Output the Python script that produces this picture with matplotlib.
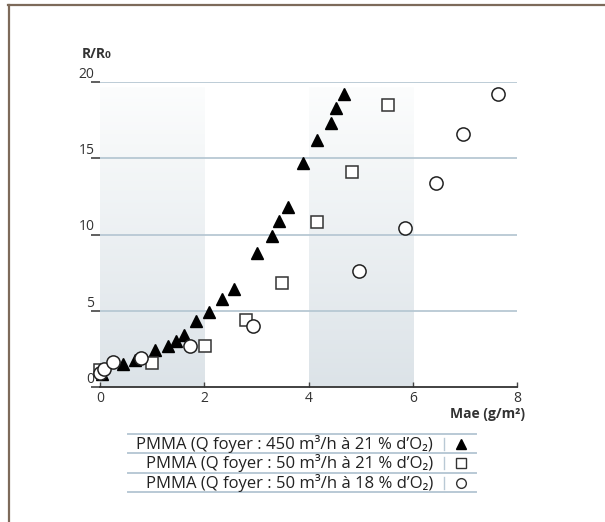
import numpy as np
import matplotlib
matplotlib.use("Agg")
import matplotlib.pyplot as plt
from matplotlib.lines import Line2D
from matplotlib.colors import LinearSegmentedColormap

plt.rcParams['font.family'] = ['Open Sans', 'DejaVu Sans']

# PMMA, Q foyer 450 m3/h, 21% O2
tri_x = [0.04, 0.45, 0.68, 1.06, 1.30, 1.46, 1.61, 1.84, 2.10, 2.35, 2.57,
         3.01, 3.30, 3.44, 3.60, 3.89, 4.17, 4.43, 4.53, 4.68]
tri_y = [0.85, 1.5, 1.8, 2.4, 2.7, 3.0, 3.4, 4.3, 4.9, 5.75, 6.4,
         8.8, 9.9, 10.9, 11.8, 14.7, 16.2, 17.3, 18.3, 19.2]
# PMMA, Q foyer 50 m3/h, 21% O2
sq_x = [0.0, 1.0, 2.01, 2.80, 3.49, 4.16, 4.83, 5.52]
sq_y = [1.1, 1.6, 2.7, 4.4, 6.8, 10.8, 14.1, 18.5]
# PMMA, Q foyer 50 m3/h, 18% O2
ci_x = [0.0, 0.07, 0.24, 0.79, 1.73, 2.93, 4.96, 5.86, 6.44, 6.97, 7.63]
ci_y = [0.95, 1.2, 1.67, 1.9, 2.7, 4.0, 7.6, 10.45, 13.35, 16.6, 19.2]

legend_labels = ["PMMA (Q foyer : 450 m³/h à 21 % d’O₂)",
                 "PMMA (Q foyer : 50 m³/h à 21 % d’O₂)",
                 "PMMA (Q foyer : 50 m³/h à 18 % d’O₂)"]
xticks = [0, 2, 4, 6, 8]
yticks = [0, 5, 10, 15, 20]
bands = [(0, 2), (4, 6)]

W, H = 605, 522
fig = plt.figure(figsize=(W / 100, H / 100), dpi=100)


def fx(px):
    return px / W


def fy(py):
    return 1 - py / H


ax = fig.add_axes([fx(100), fy(387), fx(517) - fx(100), fy(82) - fy(387)])
ax.set_xlim(0, 8)
ax.set_ylim(0, 20)

# gradient bands
grad = np.linspace(0, 1, 256).reshape(-1, 1)
cmap = LinearSegmentedColormap.from_list("band", ["#dce3e8", "#fcfdfd"])
for a, b in bands:
    ax.imshow(grad, extent=(a, b, 0, 19.67), origin="lower", cmap=cmap,
              aspect="auto", zorder=0)

for v in yticks[1:]:
    ax.axhline(v, color="#b7c8d3", lw=1.3, zorder=1)

ax.plot(tri_x, tri_y, ls="none", marker="^", ms=9, color="black", zorder=3, clip_on=False)
ax.plot(sq_x, sq_y, ls="none", marker="s", ms=8.5, mfc="white", mec="#333333", mew=1.1,
        zorder=4, clip_on=False)
ax.plot(ci_x, ci_y, ls="none", marker="o", ms=9.5, mfc="white", mec="#222222", mew=1.1,
        zorder=5, clip_on=False)

for s in ["top", "right", "left"]:
    ax.spines[s].set_visible(False)
ax.spines["bottom"].set_color("#333333")
ax.spines["bottom"].set_linewidth(1.3)
ax.spines["bottom"].set_zorder(6)

ax.set_xticks(xticks)
ax.tick_params(axis="x", direction="in", length=3.6, width=1, color="#444444",
               labelsize=10, labelcolor="#333333", pad=3)
ax.set_yticks(yticks)
ax.tick_params(axis="y", direction="out", length=6.5, width=1.2, color="#444444",
               labelsize=10, labelcolor="#333333", pad=-2.5)
for lab in ax.get_yticklabels():
    lab.set_verticalalignment("bottom")

fig.text(fx(82), fy(54), "R/R₀", fontsize=10, fontweight="bold", color="#333333",
         ha="left", va="center")
fig.text(fx(525), fy(414), "Mae (g/m²)", fontsize=10, fontweight="bold", color="#333333",
         ha="right", va="center")

# legend table
for py in [434, 453, 473, 492]:
    fig.add_artist(Line2D([fx(128), fx(476)], [fy(py), fy(py)], color="#b9c9d5", lw=1.4))
row_y = [444, 463, 482.5]
styles = [dict(marker="^", ms=6.5, color="black", mec="black"),
          dict(marker="s", ms=6.5, mfc="white", mec="#333333", mew=1),
          dict(marker="o", ms=7, mfc="white", mec="#333333", mew=1)]
for lab, py, st in zip(legend_labels, row_y, styles):
    fig.text(fx(433), fy(py), lab, fontsize=12, color="#222222", ha="right", va="center")
    fig.add_artist(Line2D([fx(444), fx(444)], [fy(py - 6), fy(py + 6)], color="#b9c9d5", lw=1))
    fig.add_artist(Line2D([fx(461)], [fy(py)], ls="none", **st))

# frame
fig.add_artist(Line2D([fx(8), fx(605)], [fy(5), fy(5)], color="#7d6a5a", lw=1.6))
fig.add_artist(Line2D([fx(9), fx(9)], [fy(5), fy(522)], color="#7d6a5a", lw=1.6))

fig.savefig("out.png", dpi=100)
